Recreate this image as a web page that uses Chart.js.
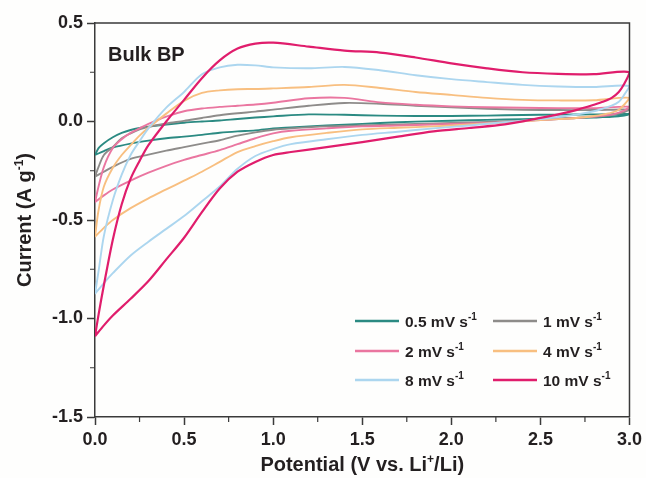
<!DOCTYPE html>
<html>
<head>
<meta charset="utf-8">
<script src="https://cdn.jsdelivr.net/npm/chart.js@4.4.0/dist/chart.umd.min.js"></script>
<style>
  html, body { margin: 0; padding: 0; background: #fefefd; }
  #wrap { width: 646px; height: 478px; position: relative; }
</style>
</head>
<body>
<div id="wrap"><canvas id="cv"></canvas></div>
<script>
// potentials of the sweep (V vs. Li+/Li): anodic 0 -> 3, cathodic back 3 -> 0
var anodicV = [0, 0.02, 0.05, 0.1, 0.15, 0.2, 0.25, 0.3, 0.4, 0.5, 0.6, 0.7, 0.8, 0.9, 1.0, 1.2, 1.4, 1.6, 1.8, 2.0, 2.2, 2.4, 2.6, 2.8, 3.0];
var cathodicV = [2.97, 2.94, 2.9, 2.85, 2.8, 2.7, 2.6, 2.5, 2.3, 2.1, 1.9, 1.7, 1.5, 1.3, 1.1, 1.0, 0.9, 0.8, 0.7, 0.6, 0.5, 0.4, 0.3, 0.2, 0.1, 0.05, 0];

// current (A g-1) for each scan rate
var anodic05 = [-0.17, -0.135, -0.11, -0.08, -0.058, -0.043, -0.033, -0.026, -0.015, -0.006, 0.0, 0.005, 0.013, 0.02, 0.026, 0.036, 0.034, 0.03, 0.028, 0.028, 0.03, 0.033, 0.035, 0.036, 0.038];
var cathodic05 = [0.03, 0.027, 0.024, 0.022, 0.02, 0.018, 0.016, 0.014, 0.01, 0.006, 0.002, -0.004, -0.012, -0.02, -0.03, -0.035, -0.045, -0.05, -0.057, -0.068, -0.077, -0.085, -0.097, -0.112, -0.132, -0.15, -0.17];

var anodic1 = [-0.28, -0.23, -0.17, -0.13, -0.085, -0.06, -0.04, -0.027, -0.01, 0.003, 0.018, 0.032, 0.042, 0.05, 0.06, 0.08, 0.094, 0.09, 0.08, 0.072, 0.065, 0.06, 0.058, 0.058, 0.06];
var cathodic1 = [0.048, 0.04, 0.033, 0.028, 0.024, 0.018, 0.012, 0.008, 0.0, -0.005, -0.01, -0.015, -0.02, -0.025, -0.035, -0.042, -0.055, -0.072, -0.095, -0.112, -0.13, -0.148, -0.168, -0.19, -0.23, -0.255, -0.28];

var anodic2 = [-0.41, -0.33, -0.23, -0.135, -0.09, -0.058, -0.035, -0.012, 0.025, 0.052, 0.066, 0.074, 0.08, 0.086, 0.095, 0.118, 0.12, 0.097, 0.085, 0.077, 0.072, 0.07, 0.068, 0.068, 0.075];
var cathodic2 = [0.055, 0.045, 0.035, 0.03, 0.025, 0.018, 0.012, 0.007, -0.003, -0.01, -0.015, -0.02, -0.025, -0.035, -0.047, -0.06, -0.085, -0.115, -0.145, -0.17, -0.195, -0.225, -0.26, -0.3, -0.345, -0.375, -0.41];

var anodic4 = [-0.585, -0.45, -0.33, -0.235, -0.17, -0.12, -0.072, -0.032, 0.04, 0.105, 0.145, 0.158, 0.164, 0.165, 0.168, 0.175, 0.186, 0.17, 0.15, 0.135, 0.12, 0.11, 0.107, 0.108, 0.12];
var cathodic4 = [0.085, 0.06, 0.045, 0.035, 0.028, 0.018, 0.012, 0.007, -0.005, -0.015, -0.025, -0.032, -0.04, -0.058, -0.08, -0.1, -0.125, -0.155, -0.205, -0.255, -0.3, -0.345, -0.39, -0.44, -0.5, -0.54, -0.585];

var anodic8 = [-0.875, -0.76, -0.58, -0.4, -0.27, -0.17, -0.1, -0.035, 0.07, 0.15, 0.24, 0.275, 0.288, 0.285, 0.275, 0.27, 0.277, 0.26, 0.235, 0.215, 0.2, 0.186, 0.178, 0.175, 0.18];
var cathodic8 = [0.135, 0.1, 0.08, 0.065, 0.052, 0.035, 0.023, 0.012, -0.003, -0.02, -0.035, -0.052, -0.068, -0.09, -0.115, -0.14, -0.175, -0.24, -0.33, -0.405, -0.48, -0.545, -0.61, -0.68, -0.77, -0.82, -0.875];

var anodic10 = [-1.09, -0.98, -0.83, -0.6, -0.42, -0.29, -0.2, -0.12, 0.0, 0.11, 0.22, 0.31, 0.37, 0.395, 0.4, 0.38, 0.36, 0.35, 0.325, 0.295, 0.27, 0.25, 0.242, 0.24, 0.25];
var cathodic10 = [0.19, 0.15, 0.12, 0.1, 0.085, 0.058, 0.036, 0.018, -0.015, -0.033, -0.05, -0.077, -0.105, -0.13, -0.155, -0.17, -0.205, -0.255, -0.34, -0.46, -0.59, -0.7, -0.81, -0.9, -0.985, -1.035, -1.09];

var rateLabels = ['0.5 mV s', '1 mV s', '2 mV s', '4 mV s', '8 mV s', '10 mV s'];
var rateColors = ['#2b8a82', '#8e8c8a', '#ea76a0', '#f8bf80', '#acd6ef', '#e01d6c'];

var xTicksMinor = [0.25, 0.75, 1.25, 1.75, 2.25, 2.75];
var yTicksMinor = [-1.25, -0.75, -0.25, 0.25];

var FONT = "'Liberation Sans', Arial, sans-serif";
var INK = '#231f20';
var AXIS = '#3a3a3a';

function loop(a, c) {
  var pts = anodicV.map(function(v, i) { return { x: v, y: a[i] }; });
  return pts.concat(cathodicV.map(function(v, i) { return { x: v, y: c[i] }; }));
}

var series = [
  loop(anodic05, cathodic05),
  loop(anodic1, cathodic1),
  loop(anodic2, cathodic2),
  loop(anodic4, cathodic4),
  loop(anodic8, cathodic8),
  loop(anodic10, cathodic10)
];

// text with a superscript part, drawn on the baseline
function richWidth(ctx, parts, size) {
  var w = 0;
  parts.forEach(function(p) {
    ctx.font = 'bold ' + (p.sup ? Math.round(size * 0.62) : size) + 'px ' + FONT;
    w += ctx.measureText(p.t).width;
  });
  return w;
}
function drawRich(ctx, parts, x, y, size) {
  parts.forEach(function(p) {
    var s = p.sup ? Math.round(size * 0.62) : size;
    ctx.font = 'bold ' + s + 'px ' + FONT;
    ctx.fillText(p.t, x, p.sup ? y - size * 0.42 : y);
    x += ctx.measureText(p.t).width;
  });
}

var decorPlugin = {
  id: 'decor',
  beforeDraw: function(chart) {
    var ctx = chart.ctx;
    ctx.save();
    ctx.fillStyle = '#fefefd';
    ctx.fillRect(0, 0, chart.width, chart.height);
    ctx.restore();
  },
  afterDraw: function(chart) {
    var ctx = chart.ctx;
    var a = chart.chartArea;
    var xs = chart.scales.x, ys = chart.scales.y;
    ctx.save();

    // top and right frame
    ctx.strokeStyle = AXIS;
    ctx.lineWidth = 1.5;
    ctx.beginPath();
    ctx.moveTo(a.left, a.top);
    ctx.lineTo(a.right, a.top);
    ctx.lineTo(a.right, a.bottom);
    ctx.stroke();

    // minor ticks
    ctx.lineWidth = 1.2;
    ctx.beginPath();
    xTicksMinor.forEach(function(v) {
      var px = xs.getPixelForValue(v);
      ctx.moveTo(px, a.bottom);
      ctx.lineTo(px, a.bottom + 5);
    });
    yTicksMinor.forEach(function(v) {
      var py = ys.getPixelForValue(v);
      ctx.moveTo(a.left - 5, py);
      ctx.lineTo(a.left, py);
    });
    ctx.stroke();

    ctx.fillStyle = INK;
    ctx.textBaseline = 'alphabetic';
    ctx.textAlign = 'left';

    // panel label
    ctx.font = 'bold 20px ' + FONT;
    ctx.fillText('Bulk BP', a.left + 13, a.top + 38);

    // legend, two columns
    var colX = [355, 493];
    var rowY = [321, 351, 380];
    chart.data.datasets.forEach(function(ds, i) {
      var x0 = colX[i % 2], y0 = rowY[Math.floor(i / 2)];
      ctx.strokeStyle = ds.borderColor;
      ctx.lineWidth = 2.5;
      ctx.beginPath();
      ctx.moveTo(x0, y0);
      ctx.lineTo(x0 + 44, y0);
      ctx.stroke();
      ctx.fillStyle = INK;
      drawRich(ctx, [{ t: ds.label }, { t: '-1', sup: true }], x0 + 50, y0 + 6, 15.5);
    });

    // axis titles
    var xt = [{ t: 'Potential (V vs. Li' }, { t: '+', sup: true }, { t: '/Li)' }];
    var wx = richWidth(ctx, xt, 20);
    drawRich(ctx, xt, (a.left + a.right) / 2 - wx / 2, 471, 20);

    var yt = [{ t: 'Current (A g' }, { t: '-1', sup: true }, { t: ')' }];
    var wy = richWidth(ctx, yt, 20);
    ctx.translate(31, (a.top + a.bottom) / 2);
    ctx.rotate(-Math.PI / 2);
    drawRich(ctx, yt, -wy / 2, 0, 20);

    ctx.restore();
  }
};

var datasets = series.map(function(pts, i) {
  return {
    label: rateLabels[i],
    data: pts,
    borderColor: rateColors[i],
    backgroundColor: rateColors[i],
    borderWidth: i === 5 ? 2.2 : 1.9,
    showLine: true,
    pointRadius: 0,
    tension: 0.3,
    fill: false,
    order: 5 - i
  };
});

new Chart(document.getElementById('cv'), {
  type: 'scatter',
  data: { datasets: datasets },
  options: {
    responsive: true,
    maintainAspectRatio: false,
    animation: false,
    layout: { padding: { top: 23, right: 16, left: 0, bottom: 0 } },
    plugins: { legend: { display: false }, tooltip: { enabled: false } },
    scales: {
      x: {
        type: 'linear',
        min: 0,
        max: 3,
        afterFit: function(s) { s.height = 61; },
        border: { display: true, color: AXIS, width: 1.5 },
        grid: { drawOnChartArea: false, drawTicks: true, tickLength: 8, tickColor: AXIS, tickWidth: 1.5 },
        ticks: {
          stepSize: 0.5,
          padding: 4,
          color: INK,
          font: { family: FONT, size: 18, weight: 'bold' },
          callback: function(v) { return v.toFixed(1); }
        }
      },
      y: {
        type: 'linear',
        min: -1.5,
        max: 0.5,
        afterFit: function(s) { s.width = 95; },
        border: { display: true, color: AXIS, width: 1.5 },
        grid: { drawOnChartArea: false, drawTicks: true, tickLength: 8, tickColor: AXIS, tickWidth: 1.5 },
        ticks: {
          stepSize: 0.5,
          padding: 4,
          color: INK,
          font: { family: FONT, size: 18, weight: 'bold' },
          callback: function(v) { return v.toFixed(1); }
        }
      }
    }
  },
  plugins: [decorPlugin]
});
</script>
</body>
</html>
